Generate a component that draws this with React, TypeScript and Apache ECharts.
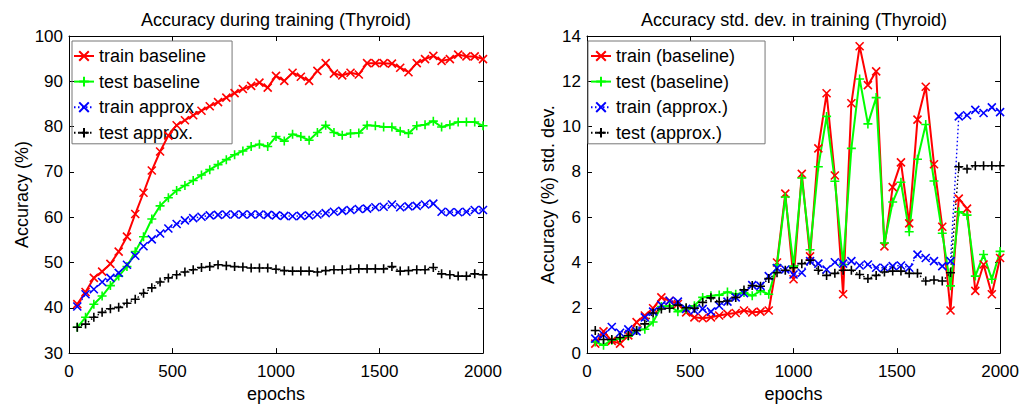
import React, { useEffect, useRef } from "react";
import * as echarts from "echarts";

const EPOCHS = [
  40, 80, 120, 160, 200, 240, 280, 320, 360, 400, 440, 480, 520, 560, 600, 640, 680, 720, 760, 800,
  840, 880, 920, 960, 1000, 1040, 1080, 1120, 1160, 1200, 1240, 1280, 1320, 1360, 1400, 1440, 1480,
  1520, 1560, 1600, 1640, 1680, 1720, 1760, 1800, 1840, 1880, 1920, 1960, 2000,
];

// Left chart: accuracy (%)
const ACC_TRAIN_BASELINE = [
  40.8, 43.5, 46.6, 48, 49.7, 52.4, 55.7, 60.7, 65.4, 70.3, 74.5, 78, 80.3, 81.4, 82.5, 83.5, 84.5,
  85.4, 86.4, 87.4, 88.3, 89, 89.7, 88.6, 91.2, 90.1, 91.9, 91, 90.1, 92.3, 94, 91.7, 91.3, 91.9,
  91.5, 94, 94, 94, 93.9, 93, 92, 94, 94.9, 95.6, 94.5, 94.9, 95.9, 95.5, 95.5, 94.9,
];
const ACC_TEST_BASELINE = [
  35.7, 37.9, 40.8, 42.6, 44.9, 47, 49.1, 52.4, 55.7, 59.6, 62.5, 64.3, 65.9, 67, 68.1, 69.3, 70.5,
  71.6, 72.7, 73.8, 74.6, 75.6, 76.1, 75.6, 77.8, 76.8, 78.3, 77.8, 77, 78.7, 80.3, 78.7, 78.1,
  78.5, 78.6, 80.3, 80.2, 79.9, 79.9, 79, 78.5, 80.2, 80.4, 81.2, 79.9, 80.4, 81, 81, 81, 80.2,
];
const ACC_TRAIN_APPROX = [
  40.3, 43, 44.1, 45.7, 46.6, 47.7, 49.5, 51.5, 53.6, 55.1, 56.4, 57.5, 58.5, 59.3, 59.8, 60.1,
  60.4, 60.5, 60.6, 60.6, 60.6, 60.6, 60.6, 60.5, 60.4, 60.3, 60.2, 60.3, 60.4, 60.6, 60.9, 61.2,
  61.4, 61.6, 61.8, 61.9, 62.2, 62.3, 62.8, 62.2, 62.4, 62.5, 62.8, 63, 61.2, 61.1, 61.1, 61.2,
  61.6, 61.6,
];
const ACC_TEST_APPROX = [
  35.7, 36.4, 37.9, 39, 39.8, 40.1, 41, 41.9, 43.2, 44.4, 45.7, 46.6, 47.3, 47.9, 48.4, 48.9, 49.1,
  49.5, 49.3, 49.1, 49, 48.8, 48.8, 48.8, 48.5, 48.2, 48.1, 48.1, 48.1, 47.9, 48.2, 48.4, 48.4,
  48.5, 48.6, 48.6, 48.6, 48.6, 49.1, 48.1, 48.2, 48.4, 48.4, 48.9, 47.5, 47.3, 47, 47, 47.5, 47.3,
];

// Right chart: accuracy std. dev.
const SD_TRAIN_BASELINE = [
  0.42, 0.96, 0.54, 0.42, 0.78, 1.37, 1.66, 1.98, 2.46, 2.31, 2.17, 1.8, 1.58, 1.54, 1.58, 1.66,
  1.73, 1.77, 1.88, 1.8, 1.83, 1.88, 4.0, 7.04, 3.26, 7.91, 4.27, 9.04, 11.47, 7.84, 2.6, 11.03,
  13.55, 11.83, 12.44, 4.71, 7.33, 8.42, 5.73, 10.31, 11.76, 8.34, 5.58, 1.88, 6.82, 6.38, 2.75,
  3.91, 2.6, 4.2,
];
const SD_TEST_BASELINE = [
  0.49, 0.35, 0.57, 0.64, 0.75, 1.0, 1.05, 1.37, 2.06, 2.09, 1.83, 1.95, 2.09, 2.46, 2.53, 2.56,
  2.7, 2.6, 2.67, 2.53, 2.75, 2.6, 3.9, 6.89, 3.84, 7.73, 4.56, 8.23, 10.45, 7.59, 3.91, 9.04, 12.1,
  10.12, 11.28, 4.86, 6.67, 7.54, 5.36, 8.56, 10.09, 7.6, 5.29, 2.97, 6.24, 6.09, 3.4, 4.35, 3.26,
  4.49,
];
const SD_TRAIN_APPROX = [
  0.64, 0.81, 1.15, 0.9, 1.05, 0.96, 1.58, 1.83, 2.12, 2.31, 2.27, 1.95, 1.88, 1.95, 1.83, 2.09,
  2.27, 2.46, 2.65, 3.0, 2.97, 3.4, 3.75, 3.69, 3.47, 3.55, 4.06, 3.95, 3.69, 4.01, 3.95, 4.06,
  3.87, 3.91, 3.77, 3.77, 3.84, 3.87, 3.77, 4.35, 4.2, 4.06, 3.84, 4.06, 10.45, 10.5, 10.74, 10.6,
  10.85, 10.64,
];
const SD_TEST_APPROX = [
  1.0, 0.6, 0.6, 0.69, 0.78, 1.0, 1.29, 1.77, 1.95, 1.98, 2.12, 2.0, 1.98, 2.24, 2.44, 2.27, 2.3,
  2.46, 2.79, 2.98, 2.95, 3.29, 3.55, 3.66, 3.77, 3.95, 4.1, 3.66, 3.43, 3.52, 3.66, 3.66, 3.47,
  3.29, 3.43, 3.58, 3.62, 3.62, 3.52, 3.52, 3.18, 3.23, 3.18, 3.55, 8.23, 8.13, 8.27, 8.27, 8.27,
  8.27,
];

const LEFT_NAMES = ["train baseline", "test baseline", "train approx.", "test approx."];
const RIGHT_NAMES = ["train (baseline)", "test (baseline)", "train (approx.)", "test (approx.)"];
const X_TICKS = { min: 0, max: 2000, interval: 500 };
const LEFT_Y = { min: 30, max: 100, interval: 10 };
const RIGHT_Y = { min: 0, max: 14, interval: 2 };

const FONT = "Liberation Sans, Arial, Helvetica, sans-serif";
const X_SYMBOL = "path://M0,0L10,10M10,0L0,10";
const PLUS_SYMBOL = "path://M5,0L5,10M0,5L10,5";

const STYLES = [
  { color: "#ff0000", symbol: X_SYMBOL, size: 8, dotted: false },
  { color: "#00ff00", symbol: PLUS_SYMBOL, size: 9, dotted: false },
  { color: "#0000ff", symbol: X_SYMBOL, size: 8, dotted: true },
  { color: "#000000", symbol: PLUS_SYMBOL, size: 9, dotted: true },
];

function pairs(values: number[]) {
  return EPOCHS.map((e, i) => [e, values[i]]);
}

export default function App() {
  const ref = useRef<HTMLDivElement>(null);

  useEffect(() => {
    if (!ref.current) return;
    const chart = echarts.init(ref.current, undefined, { renderer: "svg" });

    const grids = [
      { left: 69, right: 539, top: 36, bottom: 50 },
      { left: 587, right: 21, top: 36, bottom: 50 },
    ];

    const axisLine = { show: true, onZero: false, lineStyle: { color: "#000", width: 1 } };
    const axisTick = { show: true, inside: true, length: 5, lineStyle: { color: "#000", width: 1 } };
    const labelStyle = {
      color: "#000",
      fontSize: 17,
      fontFamily: FONT,
      formatter: (v: number) => String(v),
    };

    const xAxis: any[] = [];
    const yAxis: any[] = [];
    [0, 1].forEach((g) => {
      xAxis.push({
        type: "value",
        gridIndex: g,
        ...X_TICKS,
        position: "bottom",
        axisLine,
        axisTick,
        splitLine: { show: false },
        axisLabel: { ...labelStyle, margin: 10 },
        name: "epochs",
        nameLocation: "middle",
        nameGap: 30,
        nameTextStyle: { color: "#000", fontSize: 18, fontFamily: FONT },
      });
      xAxis.push({
        type: "value",
        gridIndex: g,
        ...X_TICKS,
        position: "top",
        axisLine,
        axisTick,
        splitLine: { show: false },
        axisLabel: { show: false },
      });
      const yr = g === 0 ? LEFT_Y : RIGHT_Y;
      yAxis.push({
        type: "value",
        gridIndex: g,
        ...yr,
        position: "left",
        axisLine,
        axisTick,
        splitLine: { show: false },
        axisLabel: { ...labelStyle, margin: 6 },
        name: g === 0 ? "Accuracy (%)" : "Accuracy (%) std. dev.",
        nameLocation: "middle",
        nameRotate: 90,
        nameGap: g === 0 ? 33 : 30,
        nameTextStyle: { color: "#000", fontSize: 18, fontFamily: FONT },
      });
      yAxis.push({
        type: "value",
        gridIndex: g,
        ...yr,
        position: "right",
        axisLine,
        axisTick,
        splitLine: { show: false },
        axisLabel: { show: false },
      });
    });

    const leftData = [ACC_TRAIN_BASELINE, ACC_TEST_BASELINE, ACC_TRAIN_APPROX, ACC_TEST_APPROX];
    const rightData = [SD_TRAIN_BASELINE, SD_TEST_BASELINE, SD_TRAIN_APPROX, SD_TEST_APPROX];

    const series: any[] = [];
    const mk = (name: string, values: number[], s: any, g: number) => ({
      type: "line",
      name,
      xAxisIndex: g * 2,
      yAxisIndex: g * 2,
      data: pairs(values),
      symbol: s.symbol,
      symbolSize: s.size,
      showAllSymbol: true,
      color: s.color,
      z: 3,
      itemStyle: { color: s.color, borderColor: s.color, borderWidth: 1.6 },
      lineStyle: {
        color: s.color,
        width: s.dotted ? 1.4 : 2,
        type: s.dotted ? [1.5, 2.5] : "solid",
      },
      emphasis: { disabled: true },
    });
    leftData.forEach((v, i) => series.push(mk(LEFT_NAMES[i], v, STYLES[i], 0)));
    rightData.forEach((v, i) => series.push(mk(RIGHT_NAMES[i], v, STYLES[i], 1)));

    const legendBase = {
      orient: "vertical",
      top: 41,
      z: 1,
      itemWidth: 20,
      itemHeight: 12,
      itemGap: 7.6,
      backgroundColor: "transparent",
      borderColor: "#777",
      borderWidth: 1,
      selectedMode: false,
      textStyle: { color: "#000", fontSize: 18, fontFamily: FONT, lineHeight: 18 },
    };

    chart.setOption({
      animation: false,
      grid: grids,
      xAxis,
      yAxis,
      series,
      legend: [
        { ...legendBase, left: 72, data: LEFT_NAMES, padding: [6, 26, 2, 1] },
        { ...legendBase, left: 588, data: RIGHT_NAMES, padding: [6, 30, 2, 2] },
      ],
      graphic: [
        {
          type: "text",
          x: 276,
          y: 20,
          style: {
            text: "Accuracy during training (Thyroid)",
            fontSize: 18,
            fontFamily: FONT,
            fill: "#000",
            textAlign: "center",
            textVerticalAlign: "middle",
          },
        },
        {
          type: "text",
          x: 794,
          y: 20,
          style: {
            text: "Accuracy std. dev. in training (Thyroid)",
            fontSize: 18,
            fontFamily: FONT,
            fill: "#000",
            textAlign: "center",
            textVerticalAlign: "middle",
          },
        },
      ],
    });

    return () => chart.dispose();
  }, []);

  return (
    <div
      ref={ref}
      style={{ position: "absolute", left: 0, top: 0, width: 1022, height: 408, background: "#fff" }}
    />
  );
}
